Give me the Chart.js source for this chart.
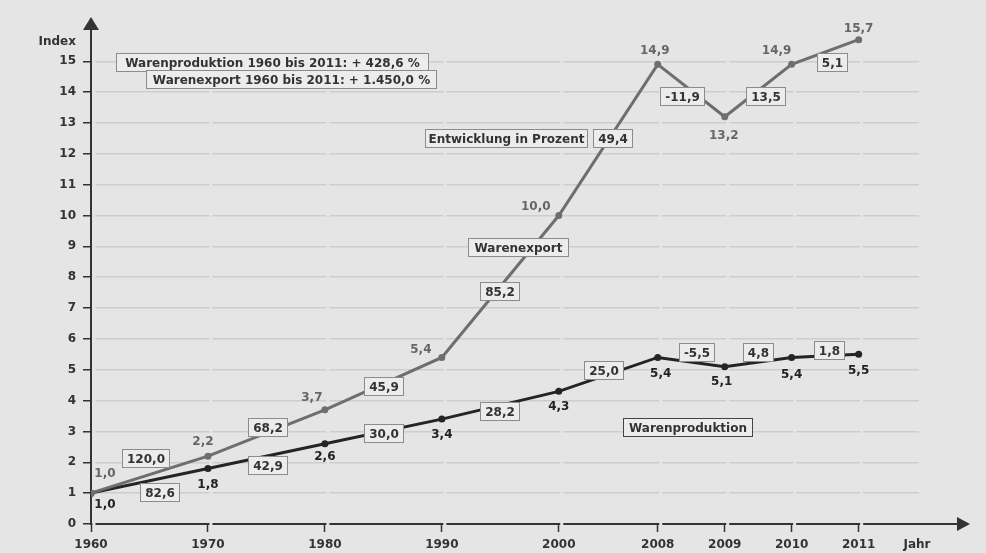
<!DOCTYPE html>
<html>
<head>
<meta charset="utf-8">
<script src="https://cdn.jsdelivr.net/npm/chart.js@4/dist/chart.umd.min.js"></script>
<style>
  body { margin: 0; background: #e5e5e5; }
  canvas { display: block; }
</style>
</head>
<body>
<canvas id="myChart" width="986" height="553"></canvas>
<script>
// categories and their place on the (non-uniform) time axis
var yearLabels = ['1960', '1970', '1980', '1990', '2000', '2008', '2009', '2010', '2011'];
var yearSlots = [0, 10, 20, 30, 40, 48.46, 54.19, 59.91, 65.64];

// index values (1960 = 1)
var exportIndex = [1.0, 2.2, 3.7, 5.4, 10.0, 14.9, 13.2, 14.9, 15.7];
var productionIndex = [1.0, 1.8, 2.6, 3.4, 4.3, 5.4, 5.1, 5.4, 5.5];

// change in percent between two neighbouring points
var exportChange = [120.0, 68.2, 45.9, 85.2, 49.4, -11.9, 13.5, 5.1];
var productionChange = [82.6, 42.9, 30.0, 28.2, 25.0, -5.5, 4.8, 1.8];

var yTicksMax = 15;

var FAMILY = '"DejaVu Sans", Verdana, sans-serif';
var FONT = 'bold 12px ' + FAMILY;
var BG = '#e5e5e5';

function de(v) {
    return v.toFixed(1).replace('.', ',');
}

// where the text sits next to a point / segment (pixel offsets)
var exportValueShift = [[14, -19], [-5, -14], [-13, -12], [-21, -8], [-23, -9], [-3, -13], [-1, 19], [-15, -13], [0, -11]];
var prodValueShift = [[14, 12], [0, 16], [0, 13], [0, 16], [0, 16], [3, 16], [-3, 15], [0, 17], [0, 17]];
var exportBoxShift = [[-4, -17], [1, -6], [0, 2], [-1, 5], [4, -2], [-9, 5], [7, 5], [7, 10]];
var prodBoxShift = [[10, 11], [1, 9], [0, 2], [-1, 6], [-5, -4], [5, -10], [0, -10], [4, -6]];

function box(ctx, text, cx, cy, border, color) {
    ctx.font = FONT;
    var w = Math.round(ctx.measureText(text).width + 9);
    var h = 18;
    var x = Math.round(cx - w / 2) + 0.5, y = Math.round(cy - h / 2) + 0.5;
    ctx.fillStyle = '#ececec';
    ctx.fillRect(x, y, w, h);
    ctx.strokeStyle = border || '#8c8c8c';
    ctx.lineWidth = 1;
    ctx.strokeRect(x, y, w, h);
    ctx.fillStyle = color || '#333';
    ctx.textAlign = 'center';
    ctx.textBaseline = 'middle';
    ctx.fillText(text, x + w / 2, y + h / 2 + 1);
}

function boxLeft(ctx, text, left, top, right, border) {
    ctx.font = FONT;
    var w = right - left, h = 18;
    ctx.fillStyle = '#ececec';
    ctx.fillRect(left + 0.5, top + 0.5, w, h);
    ctx.strokeStyle = border || '#8c8c8c';
    ctx.lineWidth = 1;
    ctx.strokeRect(left + 0.5, top + 0.5, w, h);
    ctx.fillStyle = '#333';
    ctx.textAlign = 'center';
    ctx.textBaseline = 'middle';
    ctx.fillText(text, left + w / 2 + 0.5, top + h / 2 + 1.5);
}

var decor = {
    id: 'decor',
    beforeDraw: function (chart) {
        var ctx = chart.ctx;
        ctx.save();
        ctx.fillStyle = BG;
        ctx.fillRect(0, 0, chart.width, chart.height);
        ctx.restore();
    },
    beforeDatasetsDraw: function (chart) {
        var ctx = chart.ctx, a = chart.chartArea;
        var xs = chart.scales.x, ys = chart.scales.y;
        var y0 = ys.getPixelForValue(0);
        var x0 = xs.getPixelForValue(0);
        ctx.save();
        // x axis line
        ctx.strokeStyle = '#333';
        ctx.lineWidth = 2;
        ctx.beginPath();
        ctx.moveTo(x0, y0);
        ctx.lineTo(960, y0);
        ctx.stroke();
        // little gaps next to every year column
        ctx.fillStyle = BG;
        yearSlots.forEach(function (v) {
            var px = xs.getPixelForValue(v);
            ctx.fillRect(px + 1.5, a.top, 3, y0 - a.top + 2);
        });
        // y axis line
        ctx.strokeStyle = '#333';
        ctx.beginPath();
        ctx.moveTo(x0, y0 + 1);
        ctx.lineTo(x0, 28);
        ctx.stroke();
        // arrows
        ctx.fillStyle = '#333';
        ctx.beginPath();
        ctx.moveTo(x0, 17);
        ctx.lineTo(x0 - 8, 30);
        ctx.lineTo(x0 + 8, 30);
        ctx.closePath();
        ctx.fill();
        ctx.beginPath();
        ctx.moveTo(970, y0);
        ctx.lineTo(957, y0 - 7);
        ctx.lineTo(957, y0 + 7);
        ctx.closePath();
        ctx.fill();
        // axis names
        ctx.font = FONT;
        ctx.fillStyle = '#333';
        ctx.textBaseline = 'middle';
        ctx.textAlign = 'right';
        ctx.fillText('Index', 76, 42);
        ctx.textAlign = 'center';
        ctx.fillText('Jahr', 917, 545);
        ctx.restore();
    },
    afterDatasetsDraw: function (chart) {
        var ctx = chart.ctx;
        var ex = chart.getDatasetMeta(0).data;
        var pr = chart.getDatasetMeta(1).data;
        ctx.save();
        ctx.font = FONT;
        ctx.textAlign = 'center';
        ctx.textBaseline = 'middle';
        // values at the points
        ex.forEach(function (p, i) {
            ctx.fillStyle = '#666';
            ctx.fillText(de(exportIndex[i]), p.x + exportValueShift[i][0], p.y + exportValueShift[i][1]);
        });
        pr.forEach(function (p, i) {
            ctx.fillStyle = '#222';
            ctx.fillText(de(productionIndex[i]), p.x + prodValueShift[i][0], p.y + prodValueShift[i][1]);
        });
        // percent changes in boxes
        exportChange.forEach(function (v, i) {
            var mx = (ex[i].x + ex[i + 1].x) / 2, my = (ex[i].y + ex[i + 1].y) / 2;
            box(ctx, de(v), mx + exportBoxShift[i][0], my + exportBoxShift[i][1]);
        });
        productionChange.forEach(function (v, i) {
            var mx = (pr[i].x + pr[i + 1].x) / 2, my = (pr[i].y + pr[i + 1].y) / 2;
            box(ctx, de(v), mx + prodBoxShift[i][0], my + prodBoxShift[i][1]);
        });
        // notes
        boxLeft(ctx, 'Warenproduktion 1960 bis 2011: + 428,6 %', 116, 53, 428);
        boxLeft(ctx, 'Warenexport 1960 bis 2011: + 1.450,0 %', 146, 70, 436);
        boxLeft(ctx, 'Entwicklung in Prozent', 425, 129, 587);
        boxLeft(ctx, 'Warenexport', 468, 238, 568);
        boxLeft(ctx, 'Warenproduktion', 623, 418, 752, '#444');
        ctx.restore();
    }
};

var data = {
    datasets: [{
        label: 'Warenexport',
        data: yearSlots.map(function (x, i) { return { x: x, y: exportIndex[i] }; }),
        borderColor: '#6e6e6e',
        backgroundColor: '#6e6e6e',
        borderWidth: 3,
        pointRadius: 3.5,
        pointBorderWidth: 0,
        tension: 0
    }, {
        label: 'Warenproduktion',
        data: yearSlots.map(function (x, i) { return { x: x, y: productionIndex[i] }; }),
        borderColor: '#242424',
        backgroundColor: '#242424',
        borderWidth: 3,
        pointRadius: 3.5,
        pointBorderWidth: 0,
        tension: 0
    }]
};

var config = {
    type: 'line',
    data: data,
    options: {
        responsive: false,
        animation: false,
        devicePixelRatio: 1,
        layout: { padding: { top: 15, right: 67, left: 0, bottom: 0 } },
        plugins: { legend: { display: false }, tooltip: { enabled: false } },
        scales: {
            x: {
                type: 'linear',
                min: 0,
                max: 70.8,
                afterBuildTicks: function (s) {
                    s.ticks = yearSlots.map(function (v) { return { value: v }; });
                },
                afterFit: function (s) { s.height = 29; },
                ticks: {
                    autoSkip: false,
                    maxRotation: 0,
                    padding: 6,
                    color: '#333',
                    font: { family: FAMILY, size: 12, weight: 'bold' },
                    callback: function (v, i) { return yearLabels[i]; }
                },
                grid: { drawOnChartArea: false, tickLength: 8, tickColor: '#333', tickWidth: 1.5 },
                border: { display: false }
            },
            y: {
                min: 0,
                max: 16.5,
                afterFit: function (s) { s.width = 91; },
                ticks: {
                    stepSize: 1,
                    padding: 7,
                    color: '#333',
                    font: { family: FAMILY, size: 12, weight: 'bold' },
                    callback: function (v) { return v <= yTicksMax ? v : ''; }
                },
                grid: {
                    tickLength: 8,
                    lineWidth: 1.5,
                    tickWidth: 1.5,
                    color: function (c) { return (c.tick && (c.tick.value > yTicksMax || c.tick.value === 0)) ? 'rgba(0,0,0,0)' : '#cdcdcd'; },
                    tickColor: function (c) { return (c.tick && c.tick.value > yTicksMax) ? 'rgba(0,0,0,0)' : '#333'; }
                },
                border: { display: false }
            }
        }
    },
    plugins: [decor]
};

var myChart = new Chart(document.getElementById('myChart'), config);
</script>
</body>
</html>
